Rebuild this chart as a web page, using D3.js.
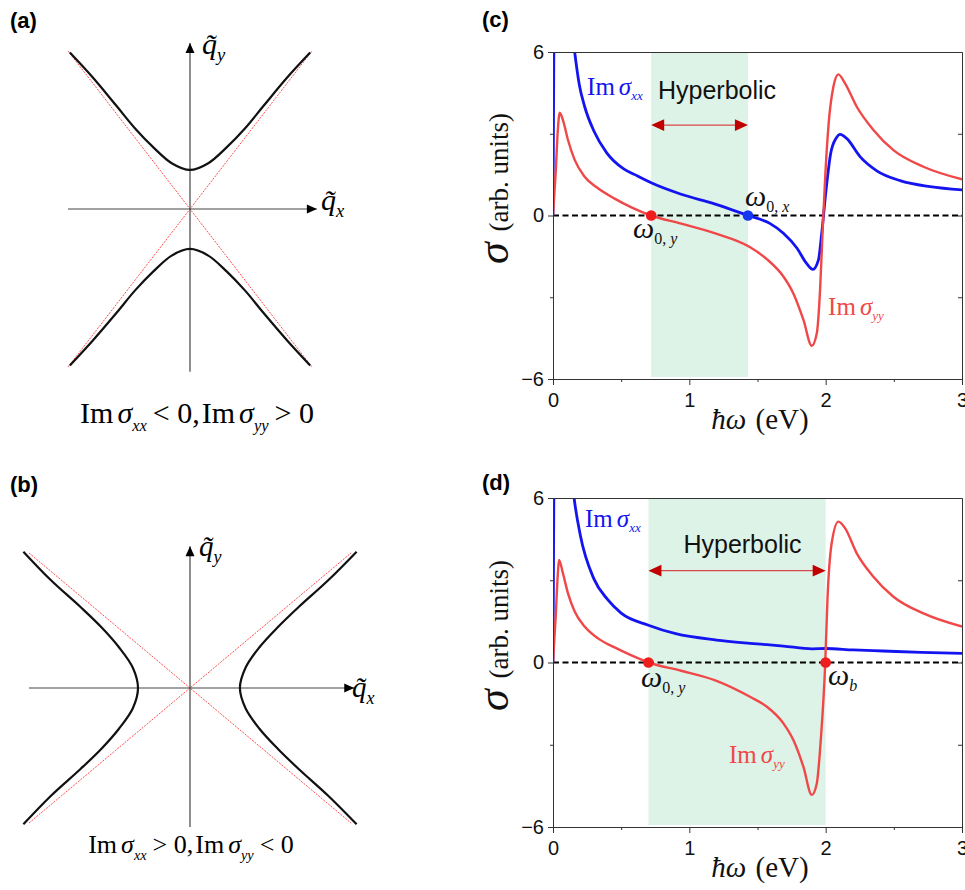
<!DOCTYPE html>
<html>
<head>
<meta charset="utf-8">
<script src="https://cdn.jsdelivr.net/npm/d3@7"></script>
<style>
  body { margin: 0; background: #fff; }
  svg { display: block; }
</style>
</head>
<body>
<div id="chart"></div>
<script>
// ========================================
// Data
// ========================================
// (a) hyperbola branches, axes units: asymptote corners at +-1
const aUpperX = [-0.985, -0.8, -0.6, -0.45, -0.3, -0.15, 0, 0.15, 0.3, 0.45, 0.6, 0.8, 0.985];
const aUpperY = [0.99, 0.835, 0.65, 0.51, 0.39, 0.29, 0.247, 0.29, 0.39, 0.51, 0.65, 0.835, 0.99];
const aLowerX = [-0.985, -0.8, -0.6, -0.45, -0.3, -0.15, 0, 0.15, 0.3, 0.45, 0.6, 0.8, 0.985];
const aLowerY = [-0.99, -0.835, -0.655, -0.515, -0.395, -0.295, -0.253, -0.295, -0.395, -0.515, -0.655, -0.835, -0.99];

// (b) hyperbola branches
const bRightY = [-1.01, -0.8, -0.6, -0.45, -0.3, -0.15, 0, 0.15, 0.3, 0.45, 0.6, 0.8, 1.01];
const bRightX = [1.035, 0.86, 0.675, 0.545, 0.43, 0.345, 0.31, 0.345, 0.43, 0.545, 0.675, 0.86, 1.035];
const bLeftY  = [-1.01, -0.8, -0.6, -0.45, -0.3, -0.15, 0, 0.15, 0.3, 0.45, 0.6, 0.8, 1.01];
const bLeftX  = [-1.035, -0.865, -0.68, -0.55, -0.44, -0.355, -0.323, -0.355, -0.44, -0.55, -0.68, -0.865, -1.035];

// (c) Im sigma_xx (blue) and Im sigma_yy (red), hbar*omega in eV
const cBlueX = [0, 0.004, 0.01, 0.06, 0.10, 0.13, 0.159, 0.193, 0.232, 0.30, 0.394, 0.516, 0.60, 0.72, 0.94, 1.19, 1.43,
  1.59, 1.69, 1.79, 1.86, 1.906, 1.947, 1.971, 2.003, 2.037, 2.076, 2.106, 2.154, 2.252, 2.375, 2.546, 2.766, 3.0];
const cBlueY = [0, 4, 9, 15, 9.4, 7.3, 6.0, 4.8, 4.0, 3.1, 2.3, 1.72, 1.5, 1.2, 0.78, 0.42, 0,
  -0.29, -0.65, -1.2, -1.76, -1.98, -1.63, -0.65, 0.94, 2.28, 2.83, 2.98, 2.83, 2.16, 1.64, 1.28, 1.06, 0.94];
const cRedX = [0, 0.02, 0.035, 0.049, 0.073, 0.110, 0.159, 0.232, 0.330, 0.452, 0.575, 0.72, 0.94, 1.19, 1.44,
  1.568, 1.69, 1.763, 1.837, 1.898, 1.935, 1.959, 1.979, 1.998, 2.022, 2.057, 2.093, 2.142, 2.228, 2.35, 2.497, 2.717, 3.0];
const cRedY = [0, 1.6, 3.1, 3.77, 3.5, 2.77, 2.04, 1.42, 1.0, 0.62, 0.3, 0, -0.3, -0.66, -1.15,
  -1.6, -2.24, -2.86, -3.83, -4.78, -4.32, -2.73, -0.41, 1.55, 3.38, 4.73, 5.18, 4.85, 3.99, 3.14, 2.4, 1.79, 1.33];

// (d)
const dBlueX = [0, 0.004, 0.01, 0.06, 0.10, 0.13, 0.155, 0.2, 0.3, 0.4, 0.5, 0.7, 0.9, 1.2, 1.445, 1.69, 1.9, 2.0, 2.2, 2.42, 2.7, 3.0];
const dBlueY = [0, 4, 9, 15, 9.3, 7.2, 6.0, 4.65, 3.05, 2.3, 1.8, 1.36, 1.05, 0.82, 0.70, 0.60, 0.50, 0.51, 0.46, 0.42, 0.37, 0.33];
const dRedX = [0, 0.02, 0.035, 0.044, 0.073, 0.110, 0.159, 0.232, 0.330, 0.452, 0.575, 0.70, 0.94, 1.19, 1.445,
  1.568, 1.69, 1.763, 1.837, 1.898, 1.935, 1.964, 1.997, 2.013, 2.044, 2.093, 2.142, 2.228, 2.35, 2.497, 2.717, 3.0];
const dRedY = [0, 1.7, 3.2, 3.74, 3.25, 2.52, 1.86, 1.31, 0.88, 0.55, 0.26, 0, -0.3, -0.65, -1.25,
  -1.61, -2.22, -2.83, -3.81, -4.83, -4.41, -2.83, 0, 2.28, 4.35, 5.14, 4.9, 3.98, 3.13, 2.4, 1.79, 1.31];

// hyperbolic windows and marked frequencies (eV)
const cShade = [0.72, 1.43];
const dShade = [0.70, 2.0];
const cDots = [{ x: 0.72, c: 'red' }, { x: 1.43, c: 'blue' }];
const dDots = [{ x: 0.70, c: 'red' }, { x: 2.0, c: 'red' }];

const xMajor = [0, 1, 2, 3], xMinor = [0.5, 1.5, 2.5];
const yMajor = [-6, 0, 6], yMinor = [-3, 3];

// ========================================
// Styles
// ========================================
const SERIF = "'Liberation Serif', 'Times New Roman', serif";
const SANS = "'Liberation Sans', Arial, sans-serif";
const BLUE = '#1414f0', RED = '#f04848', DOTRED = '#ee1c1c', DOTBLUE = '#1438f0';
const SHADE = '#ddf3e7', AXIS = '#333';

const svg = d3.select('#chart').append('svg')
  .attr('width', 965).attr('height', 890);

// rich text: parts = [{t, s, i, dy, dx, f}]
function rich(g, x, y, parts, anchor) {
  const t = g.append('text').attr('x', x).attr('y', y)
    .attr('font-family', SERIF).attr('text-anchor', anchor || 'start');
  parts.forEach(p => {
    const ts = t.append('tspan').text(p.t).attr('font-size', p.s);
    if (p.i) ts.attr('font-style', 'italic');
    if (p.dy) ts.attr('dy', p.dy);
    if (p.dx) ts.attr('dx', p.dx);
    if (p.f) ts.attr('font-family', p.f);
  });
  return t;
}

function panelLabel(x, y, txt) {
  svg.append('text').attr('x', x).attr('y', y).text(txt)
    .attr('font-family', SANS).attr('font-weight', 'bold').attr('font-size', 22);
}

function arrowHead(g, x, y, dir, size, color) {   // dir: 'r','l','u'
  const l = size, w = size * 0.45;
  let pts;
  if (dir === 'r') pts = [[x, y], [x - l, y - w], [x - l, y + w]];
  if (dir === 'l') pts = [[x, y], [x + l, y - w], [x + l, y + w]];
  if (dir === 'u') pts = [[x, y], [x - w, y + l], [x + w, y + l]];
  g.append('path').attr('d', 'M' + pts.join('L') + 'Z').attr('fill', color);
}

// ========================================
// Schematic panels (a) and (b)
// ========================================
function drawSchematic(cfg) {
  const g = svg.append('g');
  const x = d3.scaleLinear().domain([-1, 1]).range(cfg.xr);
  const y = d3.scaleLinear().domain([-1, 1]).range(cfg.yr);

  // asymptotes
  [[-1, 1, 1, -1], [-1, -1, 1, 1]].forEach(d => {
    g.append('line')
      .attr('x1', x(d[0])).attr('y1', y(d[1])).attr('x2', x(d[2])).attr('y2', y(d[3]))
      .attr('stroke', '#ff3a3a').attr('stroke-width', 0.9).attr('stroke-dasharray', '2,1.2');
  });

  // axes with arrows
  g.append('line').attr('x1', x(cfg.hx[0])).attr('x2', x(cfg.hx[1])).attr('y1', y(0)).attr('y2', y(0))
    .attr('stroke', '#444').attr('stroke-width', 1.2);
  arrowHead(g, x(cfg.hx[1]), y(0), 'r', 10, '#000');
  g.append('line').attr('x1', x(0)).attr('x2', x(0)).attr('y1', y(cfg.vy[0])).attr('y2', y(cfg.vy[1]))
    .attr('stroke', '#444').attr('stroke-width', 1.2);
  arrowHead(g, x(0), y(cfg.vy[1]), 'u', 10, '#000');

  // hyperbola branches
  const line = d3.line().x(d => x(d[0])).y(d => y(d[1])).curve(d3.curveCatmullRom);
  cfg.branches.forEach(b => {
    g.append('path').datum(d3.zip(b[0], b[1])).attr('d', line)
      .attr('fill', 'none').attr('stroke', '#111').attr('stroke-width', 2.2);
  });

  // axis labels q~y, q~x
  rich(g, cfg.qy[0], cfg.qy[1], [
    { t: 'q\u0303', s: cfg.qs, i: true },
    { t: 'y', s: cfg.qs * 0.62, i: true, dy: 7 }
  ]);
  rich(g, cfg.qx[0], cfg.qx[1], [
    { t: 'q\u0303', s: cfg.qs, i: true },
    { t: 'x', s: cfg.qs * 0.62, i: true, dy: 7 }
  ]);

  // condition caption
  const s = cfg.cs, ss = cfg.cs * 0.55, sh = cfg.cs * 0.25;
  rich(g, cfg.cap[0], cfg.cap[1], [
    { t: 'Im', s: s }, { t: 'σ', s: s, i: true, dx: 4 },
    { t: 'xx', s: ss, i: true, dy: sh },
    { t: cfg.signs[0] + ' 0,', s: s, dy: -sh, dx: 6 },
    { t: 'Im', s: s, dx: 2 }, { t: 'σ', s: s, i: true, dx: 4 },
    { t: 'yy', s: ss, i: true, dy: sh },
    { t: cfg.signs[1] + ' 0', s: s, dy: -sh, dx: 6 }
  ], 'middle');
}

drawSchematic({
  xr: [68, 312], yr: [367, 51], hx: [-1, 1.04], vy: [-1.03, 1.05],
  branches: [[aUpperX, aUpperY], [aLowerX, aLowerY]],
  qy: [202, 54], qx: [321, 210], qs: 30,
  cap: [197, 423], cs: 30, signs: ['<', '>']
});
drawSchematic({
  xr: [29, 351], yr: [823, 553], hx: [-1, 1.02], vy: [-1.03, 1.05],
  branches: [[bRightX, bRightY], [bLeftX, bLeftY]],
  qy: [199, 556], qx: [352, 697], qs: 29,
  cap: [191, 853], cs: 26, signs: ['>', '<']
});

panelLabel(10, 28, '(a)');
panelLabel(10, 492, '(b)');
panelLabel(482, 27, '(c)');
panelLabel(482, 490, '(d)');

// ========================================
// Spectrum panels (c) and (d)
// ========================================
function drawSpectrum(cfg) {
  const g = svg.append('g');
  const x = d3.scaleLinear().domain([0, 3]).range([553, 962]);
  const y = d3.scaleLinear().domain([-6, 6]).range(cfg.yr);
  const clipId = 'clip' + cfg.id;

  g.append('clipPath').attr('id', clipId).append('rect')
    .attr('x', x(0)).attr('y', y(6)).attr('width', x(3) - x(0)).attr('height', y(-6) - y(6));

  // hyperbolic window
  g.append('rect')
    .attr('x', x(cfg.shade[0])).attr('width', x(cfg.shade[1]) - x(cfg.shade[0]))
    .attr('y', y(6) + 1).attr('height', y(-6) - y(6) - 3)
    .attr('fill', SHADE);

  // zero line
  g.append('line').attr('x1', x(0)).attr('x2', x(3)).attr('y1', y(0)).attr('y2', y(0))
    .attr('stroke', '#000').attr('stroke-width', 1.8).attr('stroke-dasharray', '6,3.5');

  // curves
  const line = d3.line().x(d => x(d[0])).y(d => y(d[1])).curve(d3.curveMonotoneX);
  const plot = g.append('g').attr('clip-path', 'url(#' + clipId + ')');
  plot.append('path').datum(d3.zip(cfg.blue[0], cfg.blue[1])).attr('d', line)
    .attr('fill', 'none').attr('stroke', BLUE).attr('stroke-width', 2.8);
  plot.append('path').datum(d3.zip(cfg.red[0], cfg.red[1])).attr('d', line)
    .attr('fill', 'none').attr('stroke', RED).attr('stroke-width', 2.4);

  // axes
  const fmt = d3.format('');
  g.append('g').attr('transform', 'translate(0,' + y(-6) + ')')
    .call(d3.axisBottom(x).tickValues(xMajor).tickSize(6).tickSizeOuter(0).tickFormat(fmt))
    .call(a => a.selectAll('text').attr('font-size', 20).attr('font-family', SANS).attr('fill', '#111').attr('dy', '0.95em'));
  g.append('g').attr('transform', 'translate(0,' + y(-6) + ')')
    .call(d3.axisBottom(x).tickValues(xMinor).tickSize(3).tickSizeOuter(0).tickFormat(''));
  g.append('g').attr('transform', 'translate(' + x(0) + ',0)')
    .call(d3.axisLeft(y).tickValues(yMajor).tickSize(5).tickSizeOuter(0).tickFormat(d3.format('')))
    .call(a => a.selectAll('text').attr('font-size', 20).attr('font-family', SANS).attr('fill', '#111').attr('dx', '-1px'));
  g.append('g').attr('transform', 'translate(' + x(0) + ',0)')
    .call(d3.axisLeft(y).tickValues(yMinor).tickSize(3).tickSizeOuter(0).tickFormat(''));
  g.append('g').attr('transform', 'translate(' + x(3) + ',0)')
    .call(d3.axisRight(y).tickValues(yMajor.concat(yMinor)).tickSize(-4).tickSizeOuter(0).tickFormat(''));
  g.append('g').attr('transform', 'translate(0,' + y(6) + ')')
    .call(d3.axisTop(x).tickValues([]).tickSizeOuter(0));
  g.selectAll('.domain, .tick line').attr('stroke', AXIS);

  // hyperbolic arrow
  const ay = y(cfg.arrowY);
  g.append('line').attr('x1', x(cfg.shade[0]) + 8).attr('x2', x(cfg.shade[1]) - 8)
    .attr('y1', ay).attr('y2', ay).attr('stroke', '#d84848').attr('stroke-width', 1.3);
  arrowHead(g, x(cfg.shade[0]), ay, 'l', 13, '#c00000');
  arrowHead(g, x(cfg.shade[1]), ay, 'r', 13, '#c00000');
  g.append('text').attr('x', x(cfg.hyp[0])).attr('y', y(cfg.hyp[1])).text('Hyperbolic')
    .attr('font-family', SANS).attr('font-size', 25).attr('text-anchor', 'middle').attr('fill', '#111');

  // marked frequencies
  cfg.dots.forEach(d => {
    g.append('circle').attr('cx', x(d.x)).attr('cy', y(0)).attr('r', 5.3)
      .attr('fill', d.c === 'red' ? DOTRED : DOTBLUE);
  });

  // curve labels
  rich(g, x(cfg.imxx[0]), y(cfg.imxx[1]), [
    { t: 'Im', s: 25 }, { t: 'σ', s: 25, i: true, dx: 4 }, { t: 'xx', s: 13, i: true, dy: 5 }
  ]).attr('fill', BLUE);
  rich(g, x(cfg.imyy[0]), y(cfg.imyy[1]), [
    { t: 'Im', s: 25 }, { t: 'σ', s: 25, i: true, dx: 4 }, { t: 'yy', s: 13, i: true, dy: 5 }
  ]).attr('fill', RED);
  cfg.omegas.forEach(o => {
    rich(g, x(o.x), y(o.y), [{ t: 'ω', s: 30, i: true }].concat(o.sub))
      .attr('fill', '#111');
  });

  // axis titles
  rich(g, 0, 0, [
    { t: 'σ', s: 44, i: true }, { t: ' (arb. units)', s: 27, dx: 4 }
  ], 'middle').attr('transform', 'translate(508,' + (y(0) - 27) + ') rotate(-90)').attr('fill', '#111');
  rich(g, 760, y(-6) + 50, [
    { t: 'ħω', s: 29, i: true }, { t: ' (eV)', s: 29, dx: 2 }
  ], 'middle').attr('fill', '#111');
}

drawSpectrum({
  id: 'c', yr: [379, 52], shade: cShade, dots: cDots,
  blue: [cBlueX, cBlueY], red: [cRedX, cRedY],
  arrowY: 3.32, hyp: [1.203, 4.28],
  imxx: [0.25, 4.42], imyy: [2.018, -3.65],
  omegas: [
    { x: 0.587, y: -0.83, sub: [{ t: '0, ', s: 16, dy: 6 }, { t: 'y', s: 16, i: true }] },
    { x: 1.409, y: 0.35, sub: [{ t: '0, ', s: 16, dy: 6 }, { t: 'x', s: 16, i: true }] }
  ]
});
drawSpectrum({
  id: 'd', yr: [827, 498], shade: dShade, dots: dDots,
  blue: [dBlueX, dBlueY], red: [dRedX, dRedY],
  arrowY: 3.35, hyp: [1.39, 3.99],
  imxx: [0.235, 4.94], imyy: [1.291, -3.67],
  omegas: [
    { x: 0.646, y: -0.89, sub: [{ t: '0, ', s: 16, dy: 6 }, { t: 'y', s: 16, i: true }] },
    { x: 2.018, y: -0.82, sub: [{ t: 'b', s: 16, i: true, dy: 6 }] }
  ]
});
</script>
</body>
</html>
